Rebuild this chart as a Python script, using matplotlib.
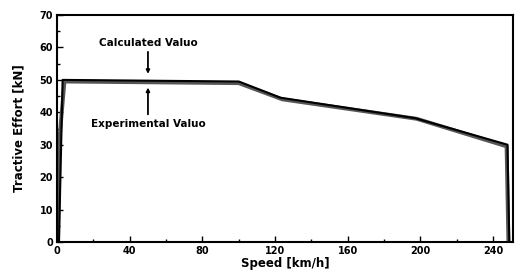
import matplotlib
matplotlib.use("Agg")
import matplotlib.pyplot as plt
from matplotlib.ticker import MultipleLocator

# Calculated and experimental tractive effort curves
calc_speed = [1, 3, 100, 123, 197, 248, 249]
calc_effort = [0, 50, 49.5, 44.5, 38.2, 30, 0]
exp_speed = [0.5, 1, 4, 100, 124, 198, 247.5, 248.5]
exp_effort = [0, 30, 49.5, 49, 44, 38, 29.5, 0]

plt.rcParams['font.family'] = ['DejaVu Sans']
plt.rcParams['font.weight'] = 'bold'

fig = plt.figure(figsize=(5.15, 2.74), dpi=100)
ax = fig.add_axes([0.111, 0.117, 0.885, 0.828])

ax.plot(exp_speed, exp_effort, color='#555555', lw=2.8)
ax.plot(calc_speed, calc_effort, color='black', lw=1.5)

ax.set_xlim(0, 251)
ax.set_ylim(0, 70)
ax.xaxis.set_major_locator(MultipleLocator(40))
ax.xaxis.set_minor_locator(MultipleLocator(20))
ax.yaxis.set_major_locator(MultipleLocator(10))
ax.yaxis.set_minor_locator(MultipleLocator(5))
ax.tick_params(which='both', direction='in', labelsize=7, width=1, pad=3)
ax.tick_params(which='major', length=4)
ax.tick_params(which='minor', length=2)
for s in ax.spines.values():
    s.set_linewidth(1.5)

ax.set_xlabel("Speed [km/h]", fontsize=8.5, fontweight='bold', labelpad=1)
ax.set_ylabel("Tractive Effort [kN]", fontsize=8.5, fontweight='bold', labelpad=10)

# annotations with arrows
ax.annotate("", xy=(50, 51), xytext=(50, 59.5),
            arrowprops=dict(arrowstyle='-|>', color='black', lw=1.3, mutation_scale=5))
ax.annotate("", xy=(50, 48.5), xytext=(50, 38.5),
            arrowprops=dict(arrowstyle='-|>', color='black', lw=1.3, mutation_scale=5))
ax.text(50, 61.5, "Calculated Valuo", ha='center', va='center', fontsize=7.5, fontweight='bold')
ax.text(50, 36.5, "Experimental Valuo", ha='center', va='center', fontsize=7.5, fontweight='bold')

fig.savefig("out.png", dpi=100)
